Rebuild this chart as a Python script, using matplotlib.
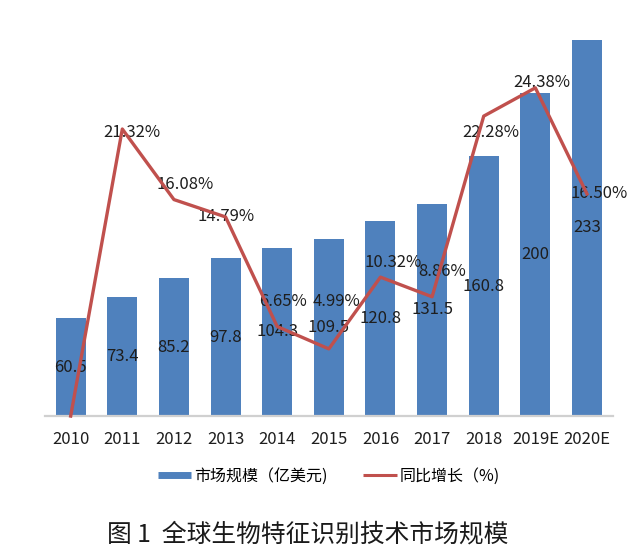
import matplotlib
matplotlib.use("Agg")
import matplotlib.pyplot as plt
from matplotlib.lines import Line2D
import numpy as np

plt.rcParams["font.family"] = ["Noto Sans CJK SC", "DejaVu Sans"]

# data
years = ["2010", "2011", "2012", "2013", "2014", "2015", "2016", "2017", "2018", "2019E", "2020E"]
market = [60.5, 73.4, 85.2, 97.8, 104.3, 109.5, 120.8, 131.5, 160.8, 200, 233]
growth = [0.0, 21.32, 16.08, 14.79, 6.65, 4.99, 10.32, 8.86, 22.28, 24.38, 16.50]
growth_labels = ["", "21.32%", "16.08%", "14.79%", "6.65%", "4.99%",
                 "10.32%", "8.86%", "22.28%", "24.38%", "16.50%"]

# label nudges (pixels) to mimic the manual placement in the source
label_off = [(0, 0), (10, -3), (11, 15), (0, 0), (6, 25), (8, 47),
             (13, 15), (10, 25), (7, -16), (6, 5), (12, 0)]

BLUE = "#4f81bd"
RED = "#c0504d"

fig = plt.figure(figsize=(6.41, 5.54), dpi=100)
ax = fig.add_axes([0.070, 0.249, 0.886, 0.729])
x = np.arange(len(years))

ax.bar(x, market, width=0.58, color=BLUE, zorder=2)
for xi, v in zip(x, market):
    ax.text(xi, v / 2, f"{v:g}", ha="center", va="center", fontsize=12,
            color="#1e1e1e", zorder=5)

ax.set_xlim(-0.5, len(years) - 0.5)
ax.set_ylim(0, 250)
ax.set_xticks(x)
ax.set_xticklabels(years, fontsize=12, color="#1e1e1e")
ax.tick_params(axis="x", length=0, pad=11)
ax.set_yticks([])
for s in ["top", "right", "left"]:
    ax.spines[s].set_visible(False)
ax.spines["bottom"].set_color("#d0d0d0")
ax.spines["bottom"].set_linewidth(1.6)
ax.spines["bottom"].set_zorder(3)

ax2 = ax.twinx()
ax2.set_ylim(0, 30)
ax2.axis("off")
ax2.plot(x, growth, color=RED, lw=2.4, clip_on=False, zorder=4)
for xi, g, lab, (dx, dy) in zip(x, growth, growth_labels, label_off):
    if lab:
        ax2.annotate(lab, (xi, g), xytext=(dx, dy), textcoords="offset pixels",
                     ha="center", va="center", fontsize=12, color="#1e1e1e")

handles = [Line2D([], [], color=BLUE, lw=5, solid_capstyle="butt"),
           Line2D([], [], color=RED, lw=2.2, solid_capstyle="butt")]
fig.legend(handles, ["市场规模（亿美元)", "同比增长（%)"], loc="center",
           bbox_to_anchor=(0.513, 0.141), ncol=2, frameon=False, fontsize=11.5,
           handlelength=2.1, handletextpad=0.2, columnspacing=2.2)

fig.text(0.48, 0.036, "图 1  全球生物特征识别技术市场规模", ha="center", va="center",
         fontsize=17.8, color="#1a1a1a")

fig.savefig("out.png", dpi=100)
